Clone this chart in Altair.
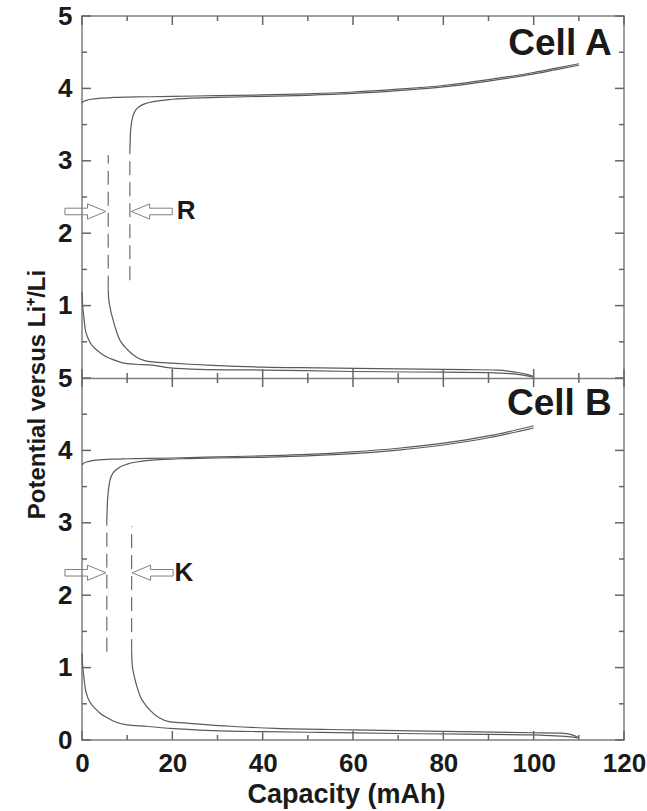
import altair as alt
import pandas as pd

# ---------------- data (capacity in mAh, potential in V) ----------------
# Cell A (upper panel)
a_up1_x = [0, 0.3, 1, 2, 4, 7, 10, 15, 20, 30, 40, 50, 60, 70, 80, 90, 100, 105, 110]
a_up1_v = [3.80, 3.82, 3.835, 3.85, 3.865, 3.875, 3.88, 3.885, 3.89, 3.90, 3.91, 3.925, 3.95, 3.99, 4.04, 4.12, 4.22, 4.28, 4.34]
a_up2_x = [10.6, 10.7, 10.9, 11.2, 11.7, 12.5, 14, 16, 20, 26, 30, 40, 50, 60, 70, 80, 90, 100, 105, 110]
a_up2_v = [3.15, 3.35, 3.5, 3.6, 3.68, 3.74, 3.79, 3.82, 3.85, 3.87, 3.875, 3.89, 3.905, 3.93, 3.97, 4.02, 4.10, 4.20, 4.26, 4.32]
a_lo1_x = [0, 0.15, 0.4, 0.7, 1.2, 2, 3, 4, 5.5, 7, 9, 12, 15, 19.5, 26, 40, 60, 80, 90, 95, 98, 100]
a_lo1_v = [1.19, 1.0, 0.85, 0.68, 0.57, 0.47, 0.40, 0.35, 0.29, 0.25, 0.21, 0.19, 0.18, 0.14, 0.12, 0.11, 0.09, 0.08, 0.075, 0.06, 0.035, 0.01]
a_lo2_x = [5.8, 5.9, 6.2, 6.9, 7.6, 8.4, 9.5, 10.6, 12, 13.9, 16, 18.7, 24, 29, 40, 52.7, 70, 85, 92, 96, 98.5, 100]
a_lo2_v = [1.22, 1.1, 0.98, 0.8, 0.65, 0.52, 0.43, 0.36, 0.29, 0.24, 0.22, 0.21, 0.19, 0.175, 0.15, 0.14, 0.125, 0.115, 0.11, 0.08, 0.05, 0.02]

# Cell B (lower panel)
b_up1_x = [0, 0.3, 1, 2, 4, 7, 10, 15, 20, 30, 40, 50, 60, 70, 80, 90, 100]
b_up1_v = [3.80, 3.82, 3.84, 3.855, 3.87, 3.88, 3.885, 3.89, 3.895, 3.91, 3.925, 3.945, 3.98, 4.03, 4.10, 4.20, 4.34]
b_up2_x = [5.5, 5.6, 5.8, 6.2, 6.8, 7.5, 8.4, 10, 12, 14.3, 18, 22, 30, 40, 50, 60, 70, 80, 90, 100]
b_up2_v = [3.04, 3.25, 3.42, 3.59, 3.68, 3.73, 3.77, 3.81, 3.84, 3.86, 3.875, 3.885, 3.895, 3.905, 3.925, 3.955, 4.005, 4.075, 4.175, 4.31]
b_lo1_x = [0, 0.15, 0.4, 0.7, 1.2, 2, 3, 4, 5.5, 7, 10, 14.3, 19.5, 29, 40, 52.7, 70, 85, 100, 104, 107, 110]
b_lo1_v = [1.2, 1.02, 0.88, 0.72, 0.6, 0.5, 0.43, 0.37, 0.31, 0.26, 0.21, 0.19, 0.16, 0.13, 0.115, 0.105, 0.09, 0.08, 0.07, 0.06, 0.05, 0.03]
b_lo2_x = [11, 11.1, 11.4, 12.1, 12.9, 14, 15.1, 17, 19.5, 23.9, 32.7, 43, 60, 80, 100, 106, 108.5, 110]
b_lo2_v = [1.2, 1.05, 0.93, 0.75, 0.6, 0.49, 0.41, 0.31, 0.25, 0.23, 0.19, 0.16, 0.14, 0.12, 0.10, 0.095, 0.07, 0.03]

# dashed markers: cell, capacity, from V, to V
dash_cell = ["A", "A", "B", "B"]
dash_x = [5.8, 10.6, 5.5, 11.0]
dash_v1 = [1.22, 1.35, 1.22, 1.20]
dash_v2 = [3.08, 3.15, 3.04, 2.95]

# arrows: tip positions
arrow_cell = ["A", "B"]
arrow_right_x = [5.3, 5.3]
arrow_left_x = [10.9, 11.1]
arrow_v = [2.30, 2.31]

# annotation letters
letter_cell = ["A", "B"]
letter_text = ["R", "K"]
letter_x = [21.0, 20.5]
letter_v = [2.30, 2.31]

# panel names
cell_cell = ["A", "B"]
cell_text = ["Cell A", "Cell B"]
cell_x = [117.3, 117.3]
cell_v = [4.46, 4.49]

# axis tick values (y: 0..5 lower panel, 5..10 = upper panel shown as 0..5)
x_major = [0, 20, 40, 60, 80, 100, 120]
x_minor = [10, 30, 50, 70, 90, 110]
y_major = list(range(0, 11))
y_minor = [k + 0.5 for k in range(0, 10)]

# ---------------- build tables ----------------
OFFSET = {"A": 5.0, "B": 0.0}   # Cell A panel is stacked above Cell B


def curves(cell, named):
    rows = []
    for name, (xs, vs) in named.items():
        for i, (x, v) in enumerate(zip(xs, vs)):
            rows.append({"cap": x, "v": v, "yy": v + OFFSET[cell], "curve": cell + name, "i": i})
    return pd.DataFrame(rows)


dfA = curves("A", {"up1": (a_up1_x, a_up1_v), "up2": (a_up2_x, a_up2_v),
                   "lo1": (a_lo1_x, a_lo1_v), "lo2": (a_lo2_x, a_lo2_v)})
dfB = curves("B", {"up1": (b_up1_x, b_up1_v), "up2": (b_up2_x, b_up2_v),
                   "lo1": (b_lo1_x, b_lo1_v), "lo2": (b_lo2_x, b_lo2_v)})

df_dash = pd.DataFrame({"cap": dash_x,
                        "y1": [v + OFFSET[c] for v, c in zip(dash_v1, dash_cell)],
                        "y2": [v + OFFSET[c] for v, c in zip(dash_v2, dash_cell)]})
df_ar = pd.DataFrame({"cap": arrow_right_x, "yy": [v + OFFSET[c] for v, c in zip(arrow_v, arrow_cell)]})
df_al = pd.DataFrame({"cap": arrow_left_x, "yy": [v + OFFSET[c] for v, c in zip(arrow_v, arrow_cell)]})
df_let = pd.DataFrame({"cap": letter_x, "t": letter_text,
                       "yy": [v + OFFSET[c] for v, c in zip(letter_v, letter_cell)]})
df_cell = pd.DataFrame({"cap": cell_x, "t": cell_text,
                        "yy": [v + OFFSET[c] for v, c in zip(cell_v, cell_cell)]})

# ---------------- layout ----------------
W, H = 542, 724
FONT = "Liberation Sans"
GREY = "#7f7f7f"
TICK = "#666666"
INK = "#1a1a1a"
XS = alt.Scale(domain=[0, 120], nice=False, zero=False)
YS = alt.Scale(domain=[0, 10], nice=False, zero=False)

x_label_axis = alt.Axis(orient="bottom", values=x_major, ticks=False, tickSize=0, domain=False, grid=False,
                        labelFont=FONT, labelFontWeight="bold", labelFontSize=26, labelColor=INK,
                        labelPadding=10, labelFlush=False, labelOverlap=False, labelBound=False,
                        title="Capacity (mAh)", titleFont=FONT, titleFontWeight="bold", titleFontSize=27,
                        titleColor=INK, titleX=264, titleY=41, titleBaseline="top", titleAlign="center")
y_label_axis = alt.Axis(orient="left", values=y_major, ticks=False, tickSize=0, domain=False, grid=False,
                        labelExpr="datum.value > 5 ? toString(datum.value - 5) : toString(datum.value)",
                        labelFont=FONT, labelFontWeight="bold", labelFontSize=26, labelColor=INK,
                        labelPadding=10, labelFlush=False, labelOverlap=False, labelBound=False,
                        title="Potential versus Li\u207a/Li", titleFont=FONT, titleFontWeight="bold",
                        titleFontSize=24, titleColor=INK, titleAngle=270, titleX=-45,
                        titleY=H / 2 + 16, titleAlign="center", titleBaseline="middle")

line_style = dict(color="#5a5a5a", strokeWidth=1.2, interpolate="monotone")

curvesA = alt.Chart(dfA).mark_line(**line_style).encode(
    x=alt.X("cap:Q", scale=XS, axis=x_label_axis),
    y=alt.Y("yy:Q", scale=YS, axis=y_label_axis),
    detail="curve:N", order="i:Q")
curvesB = alt.Chart(dfB).mark_line(**line_style).encode(
    x=alt.X("cap:Q", scale=XS, axis=None), y=alt.Y("yy:Q", scale=YS, axis=None),
    detail="curve:N", order="i:Q")

dashes = alt.Chart(df_dash).mark_rule(color="#505050", strokeWidth=1, strokeDash=[14, 7]).encode(
    x=alt.X("cap:Q", scale=XS, axis=None), y=alt.Y("y1:Q", scale=YS, axis=None), y2="y2:Q")

# hollow block arrows (tip at the data point)
RIGHT_ARROW = "M0,0L-0.9,-0.37L-0.9,-0.16L-2,-0.16L-2,0.16L-0.9,0.16L-0.9,0.37Z"
LEFT_ARROW = "M0,0L0.9,-0.37L0.9,-0.16L2,-0.16L2,0.16L0.9,0.16L0.9,0.37Z"
arrow_style = dict(size=1681, filled=False, stroke="#808080", strokeWidth=1, opacity=1)
arrows_r = alt.Chart(df_ar).mark_point(shape=RIGHT_ARROW, **arrow_style).encode(
    x=alt.X("cap:Q", scale=XS, axis=None), y=alt.Y("yy:Q", scale=YS, axis=None))
arrows_l = alt.Chart(df_al).mark_point(shape=LEFT_ARROW, **arrow_style).encode(
    x=alt.X("cap:Q", scale=XS, axis=None), y=alt.Y("yy:Q", scale=YS, axis=None))

# panel boundary line drawn as a single grid line of the y axis
mid_grid = alt.Axis(orient="left", values=[5], grid=True, gridColor=GREY, gridWidth=1.5, gridOpacity=1,
                    ticks=False, labels=False, domain=False, title=None)
letters = alt.Chart(df_let).mark_text(font=FONT, fontWeight="bold", fontSize=26, color=INK,
                                      align="left", baseline="middle").encode(
    x=alt.X("cap:Q", scale=XS, axis=None), y=alt.Y("yy:Q", scale=YS, axis=mid_grid), text="t:N")
cells = alt.Chart(df_cell).mark_text(font=FONT, fontWeight="bold", fontSize=37, color=INK,
                                     align="right", baseline="alphabetic").encode(
    x=alt.X("cap:Q", scale=XS, axis=None), y=alt.Y("yy:Q", scale=YS, axis=None), text="t:N")


# inward ticks on every frame edge, crossing ticks on the panel boundary
def xticks(values, anchor, start, end):
    df = pd.DataFrame({"v": values, "a": [anchor] * len(values)})
    return alt.Chart(df).mark_rule(color=TICK, strokeWidth=1.5, yOffset=start, y2Offset=end).encode(
        x=alt.X("v:Q", scale=XS, axis=None), y=alt.Y("a:Q", scale=YS, axis=None), y2="a:Q")


def yticks(values, anchor, length):
    df = pd.DataFrame({"v": values, "a": [anchor] * len(values)})
    return alt.Chart(df).mark_rule(color=TICK, strokeWidth=1.5, x2Offset=length).encode(
        y=alt.Y("v:Q", scale=YS, axis=None), x=alt.X("a:Q", scale=XS, axis=None), x2="a:Q")


tick_layers = [
    xticks(x_major, 0, 0, -9), xticks(x_minor, 0, 0, -5),      # bottom edge
    xticks(x_major, 10, 0, 9), xticks(x_minor, 10, 0, 5),      # top edge
    xticks(x_major, 5, -9, 9), xticks(x_minor, 5, -5, 5),      # panel boundary
    yticks(y_major, 0, 9), yticks(y_minor, 0, 5),              # left edge
    yticks(y_major, 120, -9), yticks(y_minor, 120, -5),        # right edge
]

chart = alt.layer(curvesA, curvesB, dashes, arrows_r, arrows_l, letters, cells, *tick_layers).resolve_axis(
    x="independent", y="independent"
).properties(
    width=W, height=H,
    padding={"left": 82, "top": 16, "right": 23, "bottom": 71},
    autosize=alt.AutoSizeParams(type="none"),
    background="white",
).configure_view(stroke=GREY, strokeWidth=1.5)

chart.save("out.html", embed_options={"renderer": "svg", "actions": False})
